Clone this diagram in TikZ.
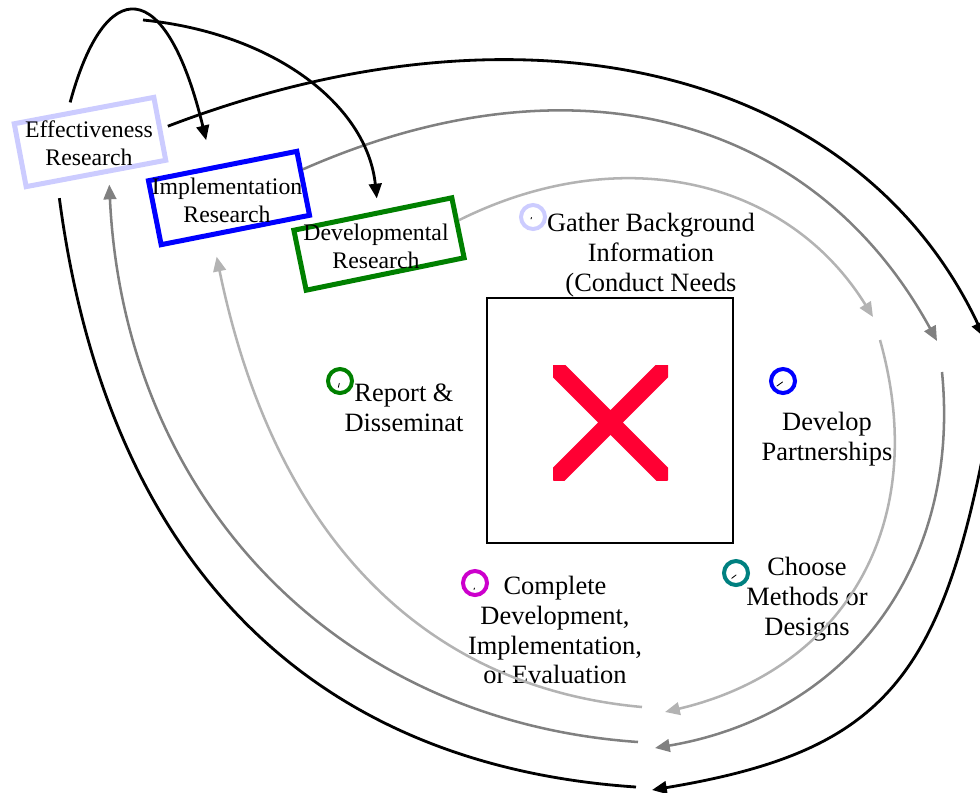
\documentclass[tikz,border=0pt]{standalone}
\usepackage{fontspec}
\setmainfont{Liberation Serif}
\usetikzlibrary{arrows.meta}
\definecolor{cycLavender}{HTML}{CCCCFF}
\definecolor{cycBlue}{HTML}{0000FF}
\definecolor{cycGreen}{HTML}{008000}
\definecolor{cycMagenta}{HTML}{CC00CC}
\definecolor{cycTeal}{HTML}{008080}
\definecolor{cycGray}{HTML}{808080}
\definecolor{cycSilver}{HTML}{B3B3B3}
\definecolor{cycCross}{HTML}{FF0033}

\begin{document}
\begin{tikzpicture}[
  x=0.025cm,y=-0.025cm,
  box/.style={draw, line width=0.125cm, inner sep=0pt},
  boxtxt/.style={font=\fontsize{16.9}{19.9}\selectfont, align=center, inner sep=0pt},
  steplbl/.style={font=\fontsize{18.8}{21.3}\selectfont, align=center, inner sep=0pt},
  ring/.style={circle, draw, line width=0.1cm, minimum size=0.6cm, inner sep=0pt},
  ringmark/.style={line width=0.6pt, line cap=round},
  loopline/.style={line width=1.8pt},
  looparrow/.style={line width=1.8pt, -{Triangle[length=10.5pt,width=9pt]}}
]
\useasboundingbox (0,0) rectangle (980,792);

\node[box, draw=cycLavender, rotate=10.7, minimum width=3.55cm, minimum height=1.6cm] (eff) at (90,142) {};
\node[box, draw=cycBlue, rotate=11.2, minimum width=3.78cm, minimum height=1.63cm] (impl) at (229,198) {};
\node[box, draw=cycGreen, rotate=11.6, minimum width=4.03cm, minimum height=1.53cm] (dev) at (379,244) {};
\node[boxtxt] (effText) at (89,143) {Effectiveness\\Research};
\node[boxtxt] (implText) at (227,200) {Implementation\\Research};
\node[boxtxt] (devText) at (376,246) {Developmental\\Research};

\node[draw, line width=1pt, minimum width=6.15cm, minimum height=6.125cm, inner sep=0pt] (imgFrame) at (610,420.5) {};
\begin{scope}
  \clip (553,365) rectangle (668,480);
  \draw[cycCross, line width=0.44cm] (553,365) -- (668,480) (553,480) -- (668,365);
\end{scope}

\node[steplbl] (gather) at (651,255) {Gather Background\\Information\\(Conduct Needs};
\node[steplbl] (partner) at (827,439) {Develop\\Partnerships};
\node[steplbl] (report) at (404,408) {Report \&\\Disseminat};
\node[steplbl] (complete) at (555,630) {Complete\\Development,\\Implementation,\\or Evaluation};
\node[steplbl] (choose) at (807,599) {Choose\\Methods or\\Designs};

\foreach \nm/\col/\px/\py in {gatherRing/cycLavender/533/217, partnerRing/cycBlue/783/381,
    reportRing/cycGreen/340/381, completeRing/cycMagenta/475/583, chooseRing/cycTeal/736/573} {
  \node[ring, draw=\col] (\nm) at (\px,\py) {};
}
\foreach \nm/\dx/\dy/\ex/\ey in {gatherRing/-2/2/0.5/-1.5, partnerRing/-6/5/5.5/-4,
    reportRing/-1.7/6.3/1/-4, completeRing/-1/6.5/0.5/-1.5, chooseRing/-4.3/5.3/4.3/-3.3} {
  \draw[ringmark] (\nm.center) ++(\dx,\dy) -- ++(\ex,\ey);
}

\coordinate (blackTip) at (984,337);
\coordinate (blackRight) at (983,455);
\coordinate (blackBottom) at (652,790);
\coordinate (blackLeft) at (636,787);
\coordinate (grayTip) at (937,341);
\coordinate (grayRight) at (942,372);
\coordinate (grayBottom) at (655,748);
\coordinate (grayLeft) at (638,742);
\coordinate (silverTip) at (873,317);
\coordinate (silverRight) at (880,340);
\coordinate (silverBottom) at (665,712);
\coordinate (silverLeft) at (642,707);
\coordinate (fork) at (143,20);

\draw[looparrow, line width=2pt] (eff.east) [shorten <=0.15cm] .. controls (529,-12) and (858,70) .. (blackTip);
\draw[looparrow, line width=2pt] (blackRight) .. controls (937,686) and (874,753) .. (blackBottom);
\draw[loopline, line width=2pt, shorten >=0.375cm] (blackLeft) .. controls (307,765) and (107,559) .. (eff.221);

\draw[looparrow, cycGray] (impl.10) .. controls (574,50) and (814,116) .. (grayTip);
\draw[looparrow, cycGray] (grayRight) .. controls (961,565) and (849,715) .. (grayBottom);
\draw[looparrow, cycGray, shorten >=0.275cm] (grayLeft) .. controls (335,721) and (124,497) .. (eff.290);

\draw[looparrow, cycSilver] (dev.5) .. controls (620,140) and (787,178) .. (silverTip);
\draw[looparrow, cycSilver] (silverRight) .. controls (932,525) and (843,670) .. (silverBottom);
\draw[looparrow, cycSilver, shorten >=0.5cm] (silverLeft) .. controls (430,688) and (276,544) .. (impl.236);

\draw[looparrow, line width=2pt, shorten <=0.225cm, shorten >=0.65cm] (eff.115) .. controls (105,-26) and (166,-26) .. (impl.106);
\draw[looparrow, line width=2pt, shorten >=0.3cm] (fork) .. controls (274,33) and (367,105) .. (dev.80);
\end{tikzpicture}
\end{document}
